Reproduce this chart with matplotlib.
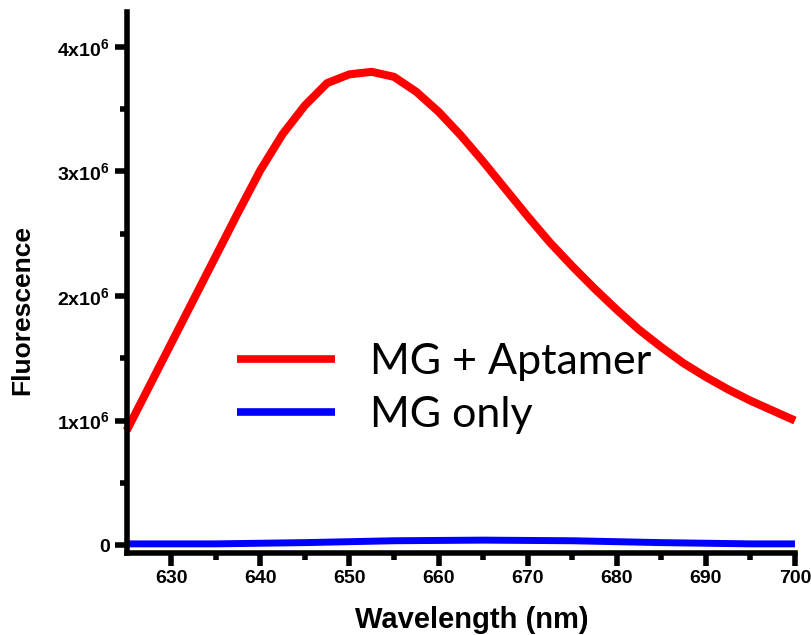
import matplotlib
matplotlib.use("Agg")
import matplotlib.pyplot as plt
from matplotlib.ticker import MultipleLocator, FixedLocator, FixedFormatter

# emission spectra (fluorescence in units of 1e6)
wavelength = [625, 627.5, 630, 632.5, 635, 637.5, 640, 642.5, 645, 647.5,
              650, 652.5, 655, 657.5, 660, 662.5, 665, 667.5, 670, 672.5,
              675, 677.5, 680, 682.5, 685, 687.5, 690, 692.5, 695, 697.5, 700]
mg_aptamer = [0.92, 1.27, 1.62, 1.97, 2.32, 2.67, 3.01, 3.30, 3.53, 3.71,
              3.78, 3.80, 3.76, 3.64, 3.48, 3.29, 3.08, 2.86, 2.64, 2.43,
              2.24, 2.06, 1.89, 1.73, 1.59, 1.46, 1.35, 1.25, 1.16, 1.08, 1.00]
mg_only_wl = [625, 635, 645, 655, 665, 675, 685, 695, 700]
mg_only = [0.01, 0.01, 0.02, 0.035, 0.04, 0.035, 0.02, 0.01, 0.01]

ytick_vals = [0, 1, 2, 3, 4]
ytick_labels = ["0", r"1x10$^{6}$", r"2x10$^{6}$", r"3x10$^{6}$", r"4x10$^{6}$"]

plt.rcParams["font.family"] = "Liberation Sans"
plt.rcParams["font.weight"] = "bold"
plt.rcParams["mathtext.fontset"] = "custom"
plt.rcParams["mathtext.rm"] = "Liberation Sans:bold"
plt.rcParams["mathtext.it"] = "Liberation Sans:bold"
plt.rcParams["mathtext.bf"] = "Liberation Sans:bold"

fig = plt.figure(figsize=(8.12, 6.35), dpi=100)
ax = fig.add_axes([0.156, 0.129, 0.823, 0.852])

ax.plot(wavelength, mg_aptamer, color="#ff0000", lw=5.8,
        solid_capstyle="butt", solid_joinstyle="round",
        label="MG + Aptamer", clip_on=False)
ax.plot(mg_only_wl, mg_only, color="#0000ff", lw=5.0,
        solid_capstyle="butt", solid_joinstyle="round",
        label="MG only", clip_on=False)

ax.set_xlim(625, 700)
ax.set_ylim(-0.064, 4.28)

for side in ("top", "right"):
    ax.spines[side].set_visible(False)
for side in ("left", "bottom"):
    ax.spines[side].set_linewidth(4)

ax.xaxis.set_major_locator(FixedLocator([630, 640, 650, 660, 670, 680, 690, 700]))
ax.xaxis.set_minor_locator(FixedLocator([635, 645, 655, 665, 675, 685, 695]))
ax.yaxis.set_major_locator(FixedLocator(ytick_vals))
ax.yaxis.set_major_formatter(FixedFormatter(ytick_labels))
ax.yaxis.set_minor_locator(MultipleLocator(0.5))

ax.tick_params(which="major", direction="out", length=9, width=4,
               labelsize=14, pad=3)
ax.tick_params(which="minor", direction="out", length=5, width=4)

ax.set_xlabel("Wavelength (nm)", fontsize=21, fontweight="bold")
ax.xaxis.set_label_coords(0.516, -0.098)
ax.set_ylabel("Fluorescence", fontsize=19, fontweight="bold")
ax.yaxis.set_label_coords(-0.138, 0.449)

leg = ax.legend(loc="upper left", bbox_to_anchor=(0.292, 0.460),
                bbox_transform=fig.transFigure, frameon=False,
                borderpad=0, borderaxespad=0,
                prop={"family": "Lato", "weight": "normal", "size": 31},
                handlelength=2.28, handletextpad=0.8, labelspacing=0.36)
for line in leg.get_lines():
    line.set_linewidth(5.5)

fig.savefig("out.png", dpi=100)
